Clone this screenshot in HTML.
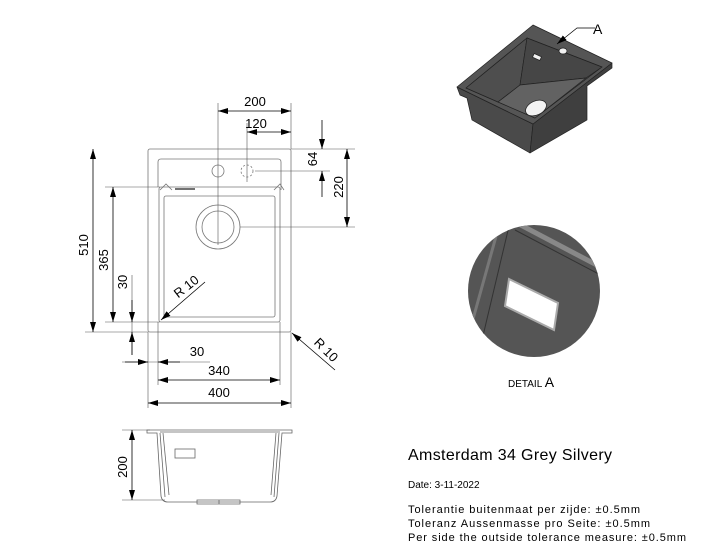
<!DOCTYPE html>
<html><head><meta charset="utf-8"><style>html,body{margin:0;padding:0;background:#fff}svg{display:block}</style></head>
<body>
<svg width="716" height="552" viewBox="0 0 716 552" xmlns="http://www.w3.org/2000/svg" font-family="Liberation Sans, sans-serif">
<defs>
<marker id="a" markerWidth="10" markerHeight="6" refX="10" refY="3" orient="auto-start-reverse" markerUnits="userSpaceOnUse"><path d="M0,0 L10,3 L0,6 z" fill="#000"/></marker>
</defs>
<g fill="none" stroke="#777" stroke-width="0.8">
<rect x="148" y="149" width="143" height="183" rx="2"/>
<path d="M158,187 V162 Q158,159 161,159 H278 Q281,159 281,162 V190"/>
<rect x="159" y="187" width="121" height="135" rx="2"/>
<rect x="164" y="196" width="111" height="121" rx="2"/>
<circle cx="218" cy="227" r="22"/><circle cx="218" cy="227" r="16"/>
<circle cx="218" cy="171" r="6"/><circle cx="247" cy="171" r="6" stroke-dasharray="2 2"/>
<path d="M175,189 H195" stroke="#444" stroke-width="1.5"/>
<path d="M160,190 L166,184 L172,190 M274,190 L280,184 L284,190"/>
</g>
<g stroke="#555" stroke-width="0.6" fill="none">
<path d="M218,103 V245 M247,123 V182 M291,103 V149 M291,149 H355 M255,171 H330 M240,227 H355"/>
<path d="M105,187 H160 M105,322 H160 M85,332 H148"/>
<path d="M148,332 V408 M158,322 V385 M280,322 V385 M291,332 V408"/>
<path d="M122,362 H210 M132,275 V355"/>
</g>
<g stroke="#000" stroke-width="0.8" fill="none">
<path d="M218,111 H291" marker-start="url(#a)" marker-end="url(#a)"/>
<path d="M247,132 H291" marker-start="url(#a)" marker-end="url(#a)"/>
<path d="M322,120 V149" marker-end="url(#a)"/><path d="M322,197 V171" marker-end="url(#a)"/>
<path d="M347,149 V227" marker-start="url(#a)" marker-end="url(#a)"/>
<path d="M93,149 V332" marker-start="url(#a)" marker-end="url(#a)"/>
<path d="M113,187 V322" marker-start="url(#a)" marker-end="url(#a)"/>
<path d="M132,300 V322" marker-end="url(#a)"/><path d="M132,355 V332" marker-end="url(#a)"/>
<path d="M125,362 H148" marker-end="url(#a)"/><path d="M180,362 H158" marker-end="url(#a)"/>
<path d="M158,380 H280" marker-start="url(#a)" marker-end="url(#a)"/>
<path d="M148,403 H291" marker-start="url(#a)" marker-end="url(#a)"/>
<path d="M205,282 L161,320" marker-end="url(#a)"/>
<path d="M335,370 L292,333" marker-end="url(#a)"/>
</g>
<g font-size="13" fill="#000" text-anchor="middle">
<text x="255" y="106">200</text>
<text x="256" y="128">120</text>
<text x="197" y="356">30</text>
<text x="219" y="375">340</text>
<text x="219" y="397">400</text>
<text transform="translate(317,159) rotate(-90)">64</text>
<text transform="translate(343,187) rotate(-90)">220</text>
<text transform="translate(88,245) rotate(-90)">510</text>
<text transform="translate(108,260) rotate(-90)">365</text>
<text transform="translate(127,282) rotate(-90)">30</text>
<text transform="translate(189,290) rotate(-38)">R 10</text>
<text transform="translate(323,353) rotate(45)">R 10</text>
<text transform="translate(127,467) rotate(-90)">200</text>
</g>
<!-- side view -->
<g fill="none" stroke="#666" stroke-width="0.8">
<path d="M147,430 H292 V433 H282 L277,496 Q276,502 270,502 H168 Q162,502 161,496 L157,433 H147 Z"/>
<path d="M160,433 L165,497 M163,433 L169,495 M279,433 L274,497 M276,433 L271,495 M160,432 H280"/>
<rect x="175" y="449" width="20" height="9"/>
<path d="M197,500 H240 V504 H197 Z M219,500 V504"/>
</g>
<g stroke="#555" stroke-width="0.6"><path d="M122,430 H150 M122,500 H165"/></g>
<path d="M132,430 V500" stroke="#000" stroke-width="0.8" marker-start="url(#a)" marker-end="url(#a)"/>
<!-- 3D sink -->
<g stroke="#222" stroke-width="0.7" stroke-linejoin="round">
<path d="M457,87 L460,95 L467,98 L472,120 L530,153 L533,124 Z" fill="#4a4a4a"/>
<path d="M533,124 L612,63 L612,68 L587,86 L587,120 L530,153 Z" fill="#3f3f3f"/>
<path d="M457,87 L533,25 L612,63 L533,124 Z" fill="#555"/>
<path d="M466,88 L527,38 L602,67 L535,118 Z" fill="#5c5c5c"/>
<path d="M466,88 L527,38 L520,85 L498,102 Z" fill="#4e4e4e"/>
<path d="M527,38 L602,67 L586,78 L520,85 Z" fill="#464646"/>
<path d="M498,102 L520,85 L586,78 L535,118 Z" fill="#626262"/>
<ellipse cx="536" cy="108" rx="11" ry="7" fill="#f2f2f2" transform="rotate(-25 536 108)"/>
<ellipse cx="563" cy="51" rx="4" ry="3" fill="#f2f2f2"/>
<rect x="533" y="55" width="8" height="4" fill="#f2f2f2" transform="rotate(25 537 57)"/>
</g>
<path d="M595,28 H577 L557,44" stroke="#000" stroke-width="0.7" fill="none" marker-end="url(#a)"/>
<text x="593" y="34" font-size="14">A</text>
<!-- detail A -->
<clipPath id="c"><circle cx="534" cy="291" r="66"/></clipPath>
<g clip-path="url(#c)">
<rect x="460" y="220" width="150" height="150" fill="#555"/>
<path d="M500,222 L470,330" stroke="#777" stroke-width="3"/>
<path d="M510,222 L482,340" stroke="#333" stroke-width="1"/>
<path d="M515,222 L610,272" stroke="#888" stroke-width="5"/>
<path d="M515,230 L610,280" stroke="#333" stroke-width="1"/>
<path d="M509,279 L558,303 L554,330 L505,306 Z" fill="#fff" stroke="#aaa" stroke-width="2"/>
</g>
<text x="508" y="387" font-size="10">DETAIL <tspan font-size="14">A</tspan></text>
<!-- text -->
<text x="408" y="460" font-size="16" textLength="204">Amsterdam 34 Grey Silvery</text>
<text x="408" y="488" font-size="10">Date: 3-11-2022</text>
<g font-size="11">
<text x="408" y="513" textLength="232">Tolerantie buitenmaat per zijde: ±0.5mm</text>
<text x="408" y="527" textLength="242">Toleranz Aussenmasse pro Seite: ±0.5mm</text>
<text x="408" y="541" textLength="278">Per side the outside tolerance measure: ±0.5mm</text>
</g>
</svg>
</body></html>
